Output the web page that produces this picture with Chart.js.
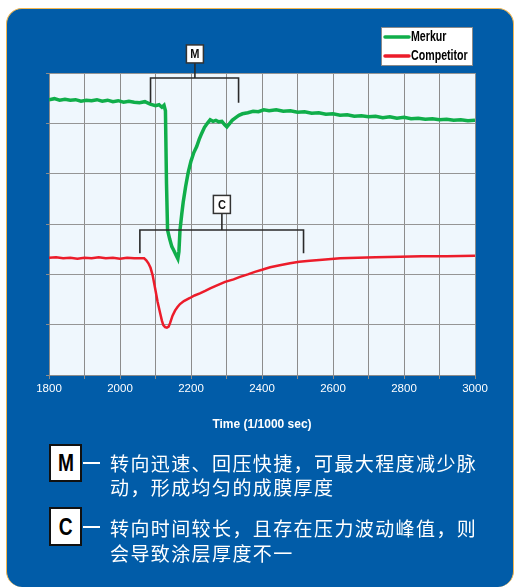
<!DOCTYPE html>
<html>
<head>
<meta charset="utf-8">
<script src="https://cdn.jsdelivr.net/npm/chart.js@4"></script>
<style>
  html, body { margin:0; padding:0; background:#fff; }
  #wrap { position:relative; width:515px; height:588px; overflow:hidden; }
  #panel { position:absolute; left:6px; top:8px; width:506px; height:578px; background:#015CA8;
           border-radius:16px; border-top:1px solid #F2B650; border-left:1px solid #F2B650; border-right:1px solid #F2B650; }
  canvas { position:absolute; left:0; top:0; }
  .box { position:absolute; left:49px; width:29px; background:#fff; border:2px solid #111;
         font-family:"Liberation Sans",Arial,sans-serif; font-weight:bold;
         font-size:24px; color:#000; text-align:center; }
  .box span { display:inline-block; transform:scaleX(0.8); }
  .dash { position:absolute; left:83px; width:17px; height:2px; background:#fff; }
  .note { position:absolute; left:110px; font-family:"Noto Sans CJK SC",sans-serif; font-size:19px;
          letter-spacing:1.4px; color:#fff; white-space:nowrap; }
</style>
</head>
<body>
<div id="wrap">
  <div id="panel"></div>
  <canvas id="c" width="515" height="588"></canvas>
  <div class="box" style="top:444px;height:34px;line-height:34px;"><span>M</span></div>
  <div class="dash" style="top:462px;"></div>
  <div class="note" style="top:451px;line-height:24px;">转向迅速、回压快捷，可最大程度减少脉<br>动，形成均匀的成膜厚度</div>
  <div class="box" style="top:507px;height:35px;line-height:35px;"><span>C</span></div>
  <div class="dash" style="top:526px;"></div>
  <div class="note" style="top:515px;line-height:25px;">转向时间较长，且存在压力波动峰值，则<br>会导致涂层厚度不一</div>
</div>
<script>
// ---- data ----
const seriesNames = ['Merkur', 'Competitor'];
const merkurTime = [1800,1815,1830,1845,1860,1875,1890,1905,1920,1935,1950,1965,1980,1995,2010,2025,2040,2055,2070,2085,2100,2110,2118,2124,2128,2131,2134,2140,2146,2152,2158,2163,2166,2169,2174,2178,2185,2192,2200,2208,2216,2223,2230,2238,2246,2254,2262,2270,2278,2287,2295,2301,2308,2316,2325,2335,2345,2360,2375,2390,2405,2420,2440,2460,2480,2500,2520,2540,2560,2580,2600,2620,2640,2660,2680,2700,2720,2740,2760,2780,2800,2820,2840,2860,2880,2900,2920,2940,2960,2980,3000];
const merkurValue = [5.47,5.49,5.46,5.48,5.46,5.47,5.44,5.46,5.45,5.47,5.44,5.46,5.43,5.45,5.42,5.44,5.42,5.41,5.43,5.38,5.35,5.37,5.32,5.36,5.25,3.8,2.88,2.7,2.55,2.47,2.38,2.31,2.45,2.88,3.2,3.43,3.75,4.02,4.25,4.42,4.54,4.68,4.80,4.92,5.00,5.07,5.04,5.06,5.03,5.04,4.97,4.93,4.99,5.06,5.11,5.16,5.19,5.21,5.24,5.23,5.27,5.25,5.27,5.24,5.25,5.22,5.23,5.20,5.21,5.18,5.19,5.16,5.17,5.14,5.15,5.13,5.14,5.11,5.13,5.10,5.12,5.09,5.10,5.08,5.09,5.07,5.08,5.06,5.07,5.05,5.06];
const competitorTime = [1800,1820,1840,1860,1880,1900,1920,1940,1960,1980,2000,2020,2040,2060,2068,2074,2080,2086,2092,2099,2106,2113,2118,2122,2127,2132,2137,2141,2148,2155,2162,2169,2180,2197,2210,2225,2240,2254,2270,2296,2320,2338,2360,2380,2400,2423,2450,2479,2505,2535,2570,2620,2670,2720,2789,2850,2920,3000];
const competitorValue = [2.33,2.34,2.32,2.33,2.31,2.33,2.32,2.34,2.32,2.33,2.31,2.33,2.32,2.32,2.32,2.28,2.22,2.13,1.98,1.72,1.45,1.23,1.08,0.99,0.95,0.94,0.96,1.03,1.18,1.28,1.35,1.41,1.47,1.53,1.58,1.62,1.67,1.72,1.77,1.85,1.90,1.95,2.00,2.05,2.09,2.14,2.18,2.22,2.25,2.27,2.29,2.32,2.33,2.34,2.35,2.36,2.36,2.37];
const xTickLabels = [1800,2000,2200,2400,2600,2800,3000];
const xTitle = 'Time (1/1000 sec)';
// bracket annotations (data units)
const bracketLabels = ['M','C'];
const bracketStart = [2086, 2056];
const bracketEnd = [2334, 2517];
const bracketStem = [2211, 2287];
const bracketTop = [5.9, 2.88];
const bracketFoot = [5.41, 2.42];
const bracketBoxBottom = [6.2, 3.21];

const colors = ['#10AE4A', '#EC1C2A'];
const sans = '"Liberation Sans",Arial,sans-serif';

const toXY = (t, v) => t.map((x, i) => ({x, y: v[i]}));

function condensedText(ctx, text, x, y, sx) {
  ctx.save();
  ctx.translate(x, y);
  ctx.scale(sx, 1);
  ctx.fillText(text, 0, 0);
  ctx.restore();
}

const bgPlugin = {
  id: 'bg',
  beforeDraw(chart) {
    const {ctx, chartArea: a} = chart;
    ctx.save();
    ctx.fillStyle = '#EFF7FD';
    ctx.fillRect(a.left, a.top, a.right - a.left, a.bottom - a.top);
    ctx.restore();
  }
};

const annoPlugin = {
  id: 'anno',
  afterDatasetsDraw(chart) {
    const {ctx, scales: {x, y}} = chart;
    ctx.save();
    bracketLabels.forEach((lab, i) => {
      const x1 = x.getPixelForValue(bracketStart[i]);
      const x2 = x.getPixelForValue(bracketEnd[i]);
      const xs = x.getPixelForValue(bracketStem[i]);
      const yt = y.getPixelForValue(bracketTop[i]);
      const yf = y.getPixelForValue(bracketFoot[i]);
      const yb = y.getPixelForValue(bracketBoxBottom[i]);
      ctx.strokeStyle = '#2a2a2a';
      ctx.lineWidth = 1.6;
      ctx.beginPath();
      ctx.moveTo(x1, yf); ctx.lineTo(x1, yt); ctx.lineTo(x2, yt); ctx.lineTo(x2, yf);
      ctx.moveTo(xs, yt); ctx.lineTo(xs, yb);
      ctx.stroke();
      const w = 17, h = 18;
      ctx.fillStyle = '#fff';
      ctx.fillRect(xs - w/2, yb - h, w, h);
      ctx.strokeStyle = '#333';
      ctx.lineWidth = 1.5;
      ctx.strokeRect(xs - w/2, yb - h, w, h);
      ctx.fillStyle = '#111';
      ctx.font = 'bold 13px ' + sans;
      ctx.textAlign = 'center';
      ctx.textBaseline = 'middle';
      condensedText(ctx, lab, xs, yb - h/2 + 0.5, 0.85);
    });
    // legend
    const lx = 381, ly = 27, lw = 92, lh = 39;
    ctx.fillStyle = '#fff';
    ctx.fillRect(lx, ly, lw, lh);
    ctx.strokeStyle = '#8a8a8a';
    ctx.lineWidth = 1;
    ctx.strokeRect(lx + 0.5, ly + 0.5, lw - 1, lh - 1);
    chart.data.datasets.forEach((ds, i) => {
      const yy = ly + 10 + i * 19;
      ctx.strokeStyle = ds.borderColor;
      ctx.lineWidth = 3.5;
      ctx.lineCap = 'round';
      ctx.beginPath();
      ctx.moveTo(lx + 4, yy); ctx.lineTo(lx + 28, yy);
      ctx.stroke();
      ctx.fillStyle = '#000';
      ctx.font = 'bold 14px ' + sans;
      ctx.textAlign = 'left';
      ctx.textBaseline = 'middle';
      condensedText(ctx, ds.label, lx + 30, yy + 0.5, 0.76);
    });
    ctx.restore();
  }
};

new Chart(document.getElementById('c'), {
  type: 'line',
  data: {
    datasets: [
      { label: seriesNames[0], data: toXY(merkurTime, merkurValue), borderColor: colors[0], borderWidth: 3.5, pointRadius: 0, tension: 0 },
      { label: seriesNames[1], data: toXY(competitorTime, competitorValue), borderColor: colors[1], borderWidth: 2.5, pointRadius: 0, tension: 0 }
    ]
  },
  options: {
    responsive: false,
    animation: false,
    layout: { padding: { left: 0, right: 40, top: 73, bottom: 156 } },
    plugins: { legend: { display: false }, tooltip: { enabled: false } },
    scales: {
      x: {
        type: 'linear', min: 1800, max: 3000,
        afterFit(s) { s.height = 57; },
        ticks: {
          stepSize: 100, color: '#fff', padding: 3, maxRotation: 0, autoSkip: false,
          font: { family: sans, size: 11.5 },
          callback: v => xTickLabels.includes(v) ? String(v) : ''
        },
        grid: { color: '#8c8c8c', lineWidth: 1, tickLength: 4, tickColor: '#8c8c8c' },
        border: { color: '#8c8c8c' },
        title: { display: true, text: xTitle, color: '#fff', padding: 0,
                 font: { family: sans, size: 12, weight: 'bold' } }
      },
      y: {
        type: 'linear', min: 0, max: 6,
        afterFit(s) { s.width = 49; },
        ticks: { stepSize: 1, display: false },
        grid: { color: '#959595', lineWidth: 1, tickLength: 3, tickColor: '#8c8c8c' },
        border: { color: '#8c8c8c' }
      }
    }
  },
  plugins: [bgPlugin, annoPlugin]
});
</script>
</body>
</html>
